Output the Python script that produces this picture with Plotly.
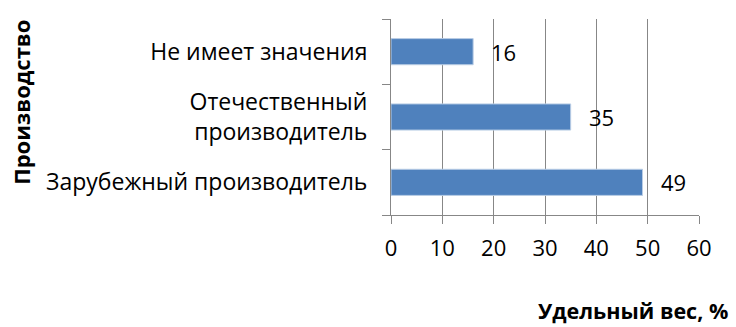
import plotly.graph_objects as go

# Survey: preferred manufacturer, share of answers (%)
categories = ["Зарубежный производитель", "Отечественный<br>производитель", "Не имеет значения"]
values = [49, 35, 16]
x_ticks = [0, 10, 20, 30, 40, 50, 60]

FONT = "Open Sans, Noto Sans, sans-serif"
GRID = "#878787"
BAR = "#4F81BD"

fig = go.Figure()
fig.add_trace(go.Bar(
    x=values,
    y=categories,
    orientation="h",
    marker=dict(color=BAR, line=dict(color="#B9CDE5", width=1)),
    hoverinfo="skip",
))

# value labels to the right of each bar
for v, c in zip(values, categories):
    fig.add_annotation(
        x=v, y=c, text=str(v), showarrow=False,
        xanchor="left", yanchor="middle", xshift=16,
        font=dict(family=FONT, size=22, color="#000000"),
    )

# axis titles
fig.add_annotation(
    text="<b>Производство</b>", xref="paper", yref="paper",
    x=-1.20, y=0.575, textangle=-90, showarrow=False,
    xanchor="center", yanchor="middle",
    font=dict(family=FONT, size=22, color="#000000"),
)
fig.add_annotation(
    text="<b>Удельный вес, %</b>", xref="paper", yref="paper",
    x=0.786, y=-0.485, showarrow=False,
    xanchor="center", yanchor="middle",
    font=dict(family=FONT, size=21.5, color="#000000"),
)

fig.update_layout(
    width=736, height=327,
    margin=dict(l=391, r=37, t=19, b=112),
    paper_bgcolor="white", plot_bgcolor="white",
    showlegend=False,
    bargap=0.6,
    font=dict(family=FONT, size=22, color="#000000"),
)
fig.update_xaxes(
    range=[0, 60], tickvals=x_ticks, ticktext=[str(t) for t in x_ticks],
    showgrid=True, gridcolor=GRID, gridwidth=1,
    showline=True, linecolor=GRID, linewidth=1,
    ticks="outside", ticklen=8, tickcolor=GRID,
    ticklabelstandoff=6, zeroline=False, fixedrange=True,
)
fig.update_yaxes(
    type="category", categoryorder="array", categoryarray=categories,
    showgrid=False, showline=True, linecolor=GRID, linewidth=1,
    ticks="outside", tickson="boundaries", ticklen=8, tickcolor=GRID,
    ticklabelstandoff=18, fixedrange=True,
    tickfont=dict(family=FONT, size=23, color="#000000"),
)

fig.write_html("out.html")
